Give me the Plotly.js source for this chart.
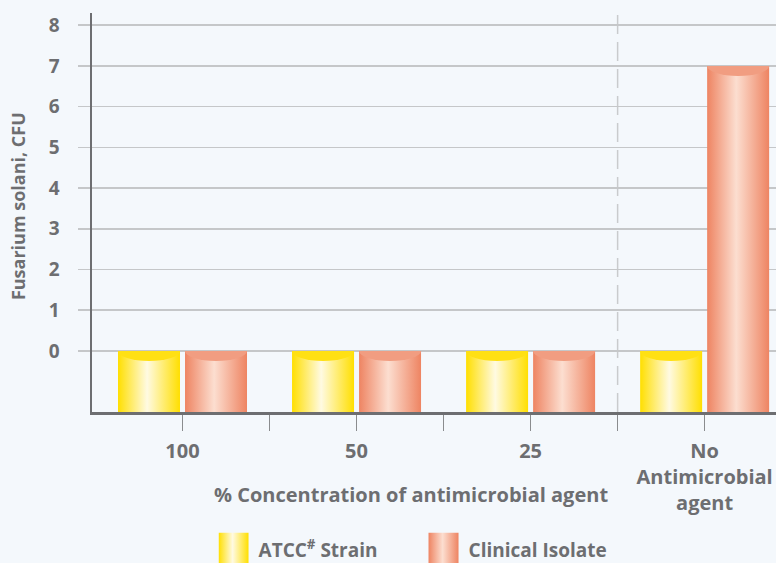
<!DOCTYPE html>
<html>
<head>
<meta charset="utf-8">
<script src="https://cdn.plot.ly/plotly-3.0.1.min.js"></script>
<style>
  html, body { margin: 0; padding: 0; background: #f4f8fc; }
  #chart { width: 776px; height: 563px; }
</style>
</head>
<body>
<div id="chart"></div>
<script>
// ---- data ----
const categories = ['100', '50', '25', 'No<br>Antimicrobial<br>agent'];
const atccValues = [0, 0, 0, 0];
const clinicalValues = [0, 0, 0, 7];
const yTickValues = [0, 1, 2, 3, 4, 5, 6, 7, 8];
const seriesNames = ['ATCC<sup>#</sup> Strain', 'Clinical Isolate'];

// ---- styling constants ----
const axisFloor = -1.5;               // bars rise from the bottom of the axis
const textColor = '#6d6e71';
const fontFamily = '"Open Sans", "DejaVu Sans", sans-serif';
const xIdx = categories.map((_, i) => i);
const boundaryTicks = xIdx.slice(0, -1).map(i => i + 0.5);

const data = [
  {
    type: 'bar', name: seriesNames[0], x: xIdx,
    y: atccValues.map(v => v - axisFloor), base: axisFloor,
    marker: { color: '#ffe000', line: { width: 0 } }, hoverinfo: 'skip'
  },
  {
    type: 'bar', name: seriesNames[1], x: xIdx,
    y: clinicalValues.map(v => v - axisFloor), base: axisFloor,
    marker: { color: '#ee8866', line: { width: 0 } }, hoverinfo: 'skip'
  }
];

const layout = {
  width: 776, height: 563,
  paper_bgcolor: '#f4f8fc', plot_bgcolor: '#f4f8fc',
  margin: { l: 92, r: 0, t: 13, b: 151, pad: 0 },
  font: { family: fontFamily, color: textColor, size: 19, weight: 'bold' },
  barmode: 'group', bargap: 0.23, bargroupgap: 0.075,
  showlegend: true,
  legend: {
    orientation: 'h', xref: 'container', yref: 'container',
    x: 0.2816, y: 0.0231, xanchor: 'left', yanchor: 'middle',
    entrywidth: 165, entrywidthmode: 'pixels',
    font: { family: fontFamily, size: 19, color: textColor, weight: 'bold' },
    bgcolor: 'rgba(0,0,0,0)', borderwidth: 0
  },
  xaxis: {
    range: [-0.52, 3.41], showgrid: false, zeroline: false,
    tickvals: xIdx, ticktext: categories,
    ticks: 'outside', ticklen: 16, tickwidth: 1.5, tickcolor: '#8a8c8e',
    ticklabelstandoff: 3,
    minor: { tickvals: boundaryTicks, ticks: 'outside', ticklen: 16, tickwidth: 1.5, tickcolor: '#8a8c8e', showgrid: false },
    showline: true, linecolor: '#6d6e71', linewidth: 3,
    tickfont: { family: fontFamily, size: 20, color: textColor, weight: 'bold' },
    fixedrange: true
  },
  yaxis: {
    range: [axisFloor, 8.3], tickvals: yTickValues,
    showgrid: true, gridcolor: '#c5c7c9', gridwidth: 1.5, zeroline: false,
    ticks: 'outside', ticklen: 12, tickwidth: 1.5, tickcolor: '#c5c7c9',
    ticklabelstandoff: 14,
    showline: true, linecolor: '#6d6e71', linewidth: 2.5,
    tickfont: { family: fontFamily, size: 19, color: textColor, weight: 'bold' },
    fixedrange: true
  },
  shapes: [{
    type: 'line', xref: 'x', yref: 'paper',
    x0: boundaryTicks[2], x1: boundaryTicks[2], y0: 0, y1: 1,
    line: { color: '#c9cbcd', width: 1.5, dash: '19px,8px' }, layer: 'below'
  }],
  annotations: [
    {
      text: '% Concentration of antimicrobial agent', xref: 'paper', yref: 'paper',
      x: 0.4664, y: -0.208, xanchor: 'center', yanchor: 'middle', showarrow: false,
      font: { family: fontFamily, size: 20, color: textColor, weight: 'bold' }
    },
    {
      text: 'Fusarium solani, CFU', xref: 'paper', yref: 'paper',
      x: -0.1082, y: 0.516, xanchor: 'center', yanchor: 'middle', showarrow: false,
      textangle: -90,
      font: { family: fontFamily, size: 18, color: textColor, weight: 'bold' }
    }
  ]
};

const gradients = [
  { id: 'gradYellow', edge: '#ffdf00', mid: '#fffae2', cap: '#ffe014' },
  { id: 'gradOrange', edge: '#ee8462', mid: '#fcded0', cap: '#f19d81' }
];

function decorate(gd) {
  const ns = 'http://www.w3.org/2000/svg';
  const svg = gd.querySelector('svg.main-svg');
  const defs = document.createElementNS(ns, 'defs');
  gradients.forEach(g => {
    const lg = document.createElementNS(ns, 'linearGradient');
    lg.setAttribute('id', g.id);
    lg.setAttribute('x1', '0'); lg.setAttribute('x2', '1');
    lg.setAttribute('y1', '0'); lg.setAttribute('y2', '0');
    [[0, g.edge], [0.47, g.mid], [1, g.edge]].forEach(([o, c]) => {
      const s = document.createElementNS(ns, 'stop');
      s.setAttribute('offset', o); s.setAttribute('stop-color', c);
      lg.appendChild(s);
    });
    defs.appendChild(lg);
  });
  svg.insertBefore(defs, svg.firstChild);

  gd.querySelectorAll('.barlayer .trace').forEach((tr, i) => {
    const g = gradients[i];
    tr.querySelectorAll('.point').forEach(pt => {
      const p = pt.querySelector('path');
      if (!p) return;
      p.style.fill = 'url(#' + g.id + ')';
      const b = p.getBBox();
      if (b.height <= 0) return;
      const cap = document.createElementNS(ns, 'path');
      const rx = b.width / 2, ry = 10;
      cap.setAttribute('d', 'M' + b.x + ',' + b.y + ' A' + rx + ',' + ry + ' 0 0 0 ' + (b.x + b.width) + ',' + b.y + ' Z');
      cap.style.fill = g.cap;
      pt.appendChild(cap);
    });
  });

  gd.querySelectorAll('.legend .traces').forEach((t, i) => {
    const p = t.querySelector('.legendpoints path');
    if (!p) return;
    p.setAttribute('d', 'M-20,-17h30v34h-30z');
    p.style.fill = 'url(#' + gradients[i].id + ')';
    p.style.stroke = 'none';
  });
}

Plotly.newPlot('chart', data, layout, { staticPlot: true, displayModeBar: false }).then(decorate);
</script>
</body>
</html>
